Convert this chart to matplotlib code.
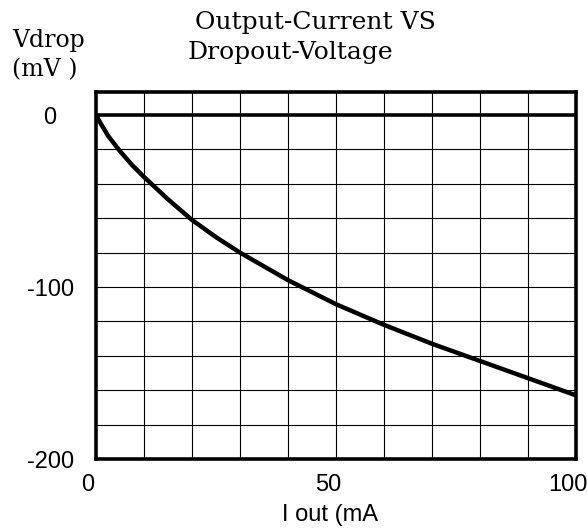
import matplotlib
matplotlib.use("Agg")
import matplotlib.pyplot as plt
import matplotlib.transforms as mtransforms
import numpy as np

# values
iout_ma = [0, 1, 2.5, 5, 7.5, 10, 15, 20, 25, 30, 40, 50, 60, 70, 80, 90, 100]
vdrop_mv = [0, -5, -12, -21, -29, -36, -49, -61, -71, -80, -96, -110, -122, -133, -143, -153, -163]

xticks = [0, 50, 100]
yticks = [0, -100, -200]

fig = plt.figure(figsize=(5.87, 5.30), dpi=100)
ax = fig.add_axes([96 / 587, 71 / 530, 480 / 587, 367 / 530])

ax.set_xlim(0, 100)
ax.set_ylim(-200, 13.4)

# grid
for x in np.arange(10, 100, 10):
    ax.axvline(x, color="black", lw=0.8, zorder=1)
for y in np.arange(-180, 0, 20):
    ax.axhline(y, color="black", lw=0.8, zorder=1)
ax.axhline(0, color="black", lw=2.6, zorder=2)

ax.plot(iout_ma, vdrop_mv, color="black", lw=3.2, solid_capstyle="butt", zorder=3)

for s in ax.spines.values():
    s.set_linewidth(2.6)
    s.set_zorder(4)

ax.set_xticks(xticks)
ax.set_yticks(yticks)
ax.set_xticklabels([str(v) for v in xticks], fontsize=17, family="Liberation Sans")
ax.set_yticklabels([str(v) for v in yticks], fontsize=17, family="Liberation Sans")
ax.tick_params(length=0)
ax.tick_params(axis="x", pad=11)
ax.tick_params(axis="y", pad=33)
for lbl in ax.get_yticklabels():
    lbl.set_ha("center")
shift = mtransforms.ScaledTranslation(-8 / 100, 0, fig.dpi_scale_trans)
for lbl in ax.get_xticklabels():
    lbl.set_transform(lbl.get_transform() + shift)

fig.text(330 / 587, 1 - 515 / 530, "I out (mA", ha="center", va="center",
         fontsize=17, family="Liberation Sans")

fig.text(12 / 587, 1 - 40 / 530, "Vdrop", ha="left", va="center",
         fontsize=17, family="DejaVu Serif")
fig.text(12 / 587, 1 - 70 / 530, "(mV )", ha="left", va="center",
         fontsize=17, family="DejaVu Serif")

fig.text(315 / 587, 1 - 22 / 530, "Output-Current VS", ha="center", va="center",
         fontsize=18, family="DejaVu Serif")
fig.text(290 / 587, 1 - 53 / 530, "Dropout-Voltage", ha="center", va="center",
         fontsize=18, family="DejaVu Serif")

fig.savefig("out.png", dpi=100)
